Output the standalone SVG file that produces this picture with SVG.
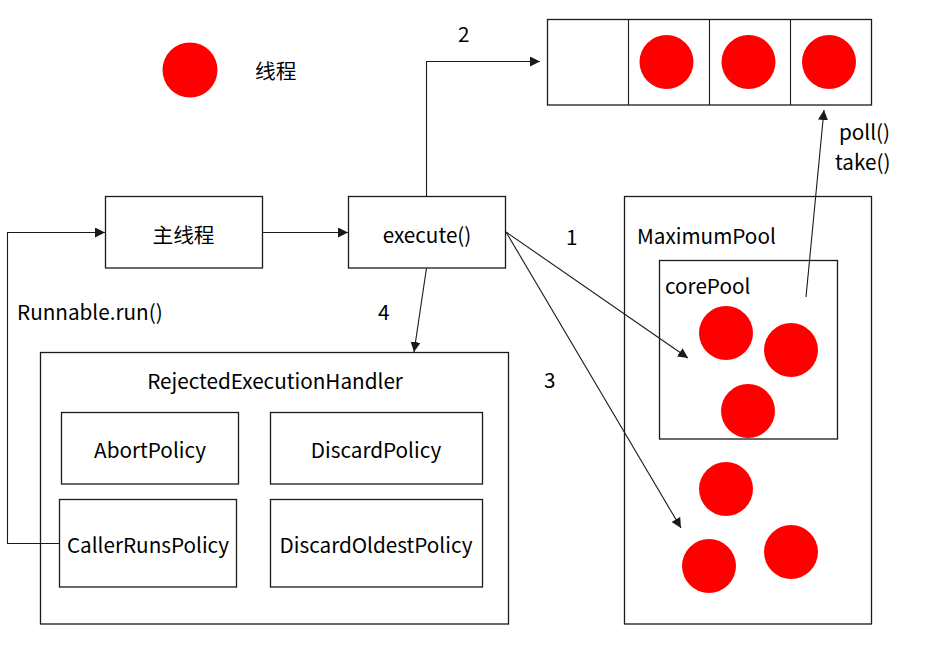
<svg xmlns="http://www.w3.org/2000/svg" width="927" height="646" viewBox="0 0 927 646">
<defs>
<marker id="arr" viewBox="0 0 10 10" refX="10" refY="5" markerWidth="10" markerHeight="10" markerUnits="userSpaceOnUse" orient="auto">
<path d="M0,0 L10,5 L0,10 z" fill="#1a1a1a"/>
</marker>
</defs>
<style>
.box{fill:#fff;stroke:#1a1a1a;stroke-width:1.3}
.ln{fill:none;stroke:#1a1a1a;stroke-width:1.1}
.dot{fill:#ff0000}
text{font-family:"Noto Sans CJK SC","Open Sans",sans-serif;font-size:20.7px;fill:#000}
.c{text-anchor:middle}
</style>
<rect width="927" height="646" fill="#fff"/>

<g id="legend">
<circle class="dot" cx="190" cy="70" r="27.5"/>
<text x="255" y="79">线程</text>
</g>

<g id="main-thread">
<rect class="box" x="105.5" y="196.5" width="157" height="71.5"/>
<text class="c" x="183.5" y="243">主线程</text>
</g>

<g id="execute">
<rect class="box" x="348.5" y="196.5" width="157" height="71.5"/>
<text class="c" x="427" y="243">execute()</text>
</g>

<g id="queue">
<rect class="box" x="547.5" y="19.5" width="324" height="85.5"/>
<line class="ln" x1="628.5" y1="19.5" x2="628.5" y2="105"/>
<line class="ln" x1="709.5" y1="19.5" x2="709.5" y2="105"/>
<line class="ln" x1="790.5" y1="19.5" x2="790.5" y2="105"/>
<circle class="dot" cx="666.5" cy="62" r="27"/>
<circle class="dot" cx="748.5" cy="62" r="27"/>
<circle class="dot" cx="829" cy="62" r="27"/>
</g>

<g id="maximum-pool">
<rect class="box" x="624.5" y="196.5" width="247" height="427.5"/>
<text x="637" y="244">MaximumPool</text>
<circle class="dot" cx="726" cy="489" r="27"/>
<circle class="dot" cx="709" cy="566" r="27"/>
<circle class="dot" cx="791" cy="552" r="27"/>
</g>

<g id="core-pool">
<rect class="box" x="659.5" y="260.5" width="178" height="178.5"/>
<text x="665" y="294">corePool</text>
<circle class="dot" cx="726" cy="333" r="27"/>
<circle class="dot" cx="791" cy="350" r="27"/>
<circle class="dot" cx="748" cy="411" r="27"/>
</g>

<g id="rejected-handler">
<rect class="box" x="40.5" y="352.5" width="468" height="271.5"/>
<text class="c" x="275" y="389">RejectedExecutionHandler</text>
</g>
<g id="abort-policy">
<rect class="box" x="61.5" y="412.5" width="177" height="71.5"/>
<text class="c" x="150" y="458">AbortPolicy</text>
</g>
<g id="discard-policy">
<rect class="box" x="270.5" y="412.5" width="212" height="71.5"/>
<text class="c" x="376" y="458">DiscardPolicy</text>
</g>
<g id="caller-runs-policy">
<rect class="box" x="59.5" y="499.5" width="177" height="87.5"/>
<text class="c" x="148" y="553">CallerRunsPolicy</text>
</g>
<g id="discard-oldest-policy">
<rect class="box" x="270.5" y="499.5" width="212" height="87.5"/>
<text class="c" x="376" y="553">DiscardOldestPolicy</text>
</g>

<g id="connectors">
<line class="ln" x1="263" y1="232.5" x2="348" y2="232.5" marker-end="url(#arr)"/>
<polyline class="ln" points="59,543.5 7.5,543.5 7.5,232.5 105,232.5" marker-end="url(#arr)"/>
<polyline class="ln" points="426.5,196 426.5,61.5 540,61.5" marker-end="url(#arr)"/>
<line class="ln" x1="506" y1="232" x2="688" y2="358" marker-end="url(#arr)"/>
<line class="ln" x1="506" y1="232" x2="681" y2="528" marker-end="url(#arr)"/>
<line class="ln" x1="426.5" y1="268" x2="414" y2="352" marker-end="url(#arr)"/>
<line class="ln" x1="806" y1="297" x2="824" y2="110" marker-end="url(#arr)"/>
<text x="458" y="42">2</text>
<text x="566" y="245">1</text>
<text x="544" y="388">3</text>
<text x="378" y="320">4</text>
<text x="17" y="320">Runnable.run()</text>
<text x="839" y="140">poll()</text>
<text x="835" y="170">take()</text>
</g>
</svg>
